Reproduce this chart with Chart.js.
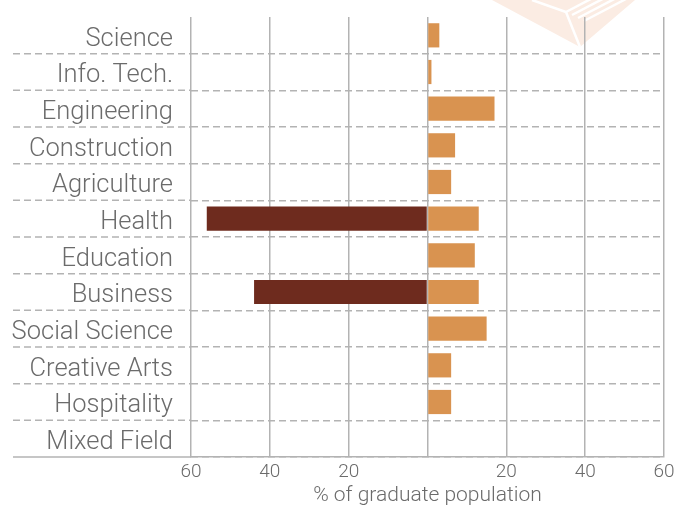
<!DOCTYPE html>
<html>
<head>
  <script src="https://cdn.jsdelivr.net/npm/chart.js@4/dist/chart.umd.min.js"></script>
  <style>
    * { margin: 0; padding: 0; box-sizing: border-box; }
    body { background: #ffffff; width: 677px; height: 508px; overflow: hidden; }
    .chart-box { position: relative; width: 677px; height: 508px; }
  </style>
</head>
<body>
<div class="chart-box">
  <canvas id="fieldChart"></canvas>
</div>

<script>
  // Fields of study, top to bottom
  const fields = ['Science', 'Info. Tech.', 'Engineering', 'Construction', 'Agriculture', 'Health',
    'Education', 'Business', 'Social Science', 'Creative Arts', 'Hospitality', 'Mixed Field'];
  // % of graduate population, left side (drawn as negatives)
  const leftShare = [0, 0, 0, 0, 0, 56, 0, 44, 0, 0, 0, 0];
  // % of graduate population, right side
  const rightShare = [3, 1, 17, 7, 6, 13, 12, 13, 15, 6, 6, 0];
  const xTicks = [-60, -40, -20, 0, 20, 40, 60];

  const gridGrey = '#b3b3b3';
  const textGrey = '#6b6b6b';

  // faint emblem in the top right corner
  const watermark = {
    id: 'watermark',
    beforeDraw(chart) {
      const c = chart.ctx;
      c.save();
      c.fillStyle = '#fbece3';
      c.beginPath();
      c.moveTo(492, 0);
      c.lineTo(580, 47);
      c.lineTo(635, 0);
      c.closePath();
      c.fill();
      c.strokeStyle = '#ffffff';
      c.lineWidth = 2.5;
      for (let k = 0; k < 4; k++) {
        c.beginPath();
        c.moveTo(566 + k * 6, 12 + k * 3);
        c.lineTo(608 + k * 6, -10 + k * 3);
        c.stroke();
      }
      c.beginPath();
      c.moveTo(532, 0);
      c.lineTo(566, 12);
      c.lineTo(580, 47);
      c.stroke();
      c.restore();
    }
  };

  // carry the row separators and the base line under the labels
  const leftRules = {
    id: 'leftRules',
    beforeDatasetsDraw(chart) {
      const c = chart.ctx;
      const y = chart.scales.y;
      const area = chart.chartArea;
      c.save();
      c.strokeStyle = gridGrey;
      c.lineWidth = 1.5;
      c.setLineDash([7, 4]);
      for (let i = 1; i < fields.length; i++) {
        const py = (y.getPixelForTick(i - 1) + y.getPixelForTick(i)) / 2;
        c.beginPath();
        c.moveTo(13, py);
        c.lineTo(area.left, py);
        c.stroke();
      }
      c.setLineDash([]);
      c.beginPath();
      c.moveTo(13, area.bottom);
      c.lineTo(area.left, area.bottom);
      c.stroke();
      c.restore();
    }
  };

  new Chart(document.getElementById('fieldChart'), {
    type: 'bar',
    data: {
      labels: fields,
      datasets: [
        {
          label: 'Left',
          data: leftShare.map(v => -v),
          backgroundColor: '#6e2b1e',
          barPercentage: 0.66,
          categoryPercentage: 1
        },
        {
          label: 'Right',
          data: rightShare,
          backgroundColor: '#d99350',
          barPercentage: 0.66,
          categoryPercentage: 1
        }
      ]
    },
    options: {
      indexAxis: 'y',
      responsive: true,
      maintainAspectRatio: false,
      animation: false,
      layout: { padding: { top: 17, right: 13, left: 0, bottom: 0 } },
      plugins: {
        legend: { display: false },
        tooltip: { enabled: false }
      },
      scales: {
        x: {
          stacked: true,
          min: -60,
          max: 60,
          afterBuildTicks(scale) {
            scale.ticks = xTicks.map(v => ({ value: v }));
          },
          afterFit(scale) {
            scale.height = 51;
            scale.paddingLeft = 0;
            scale.paddingRight = 0;
          },
          grid: { color: gridGrey, lineWidth: 1.5, drawTicks: false },
          border: { display: true, color: gridGrey, width: 1.5 },
          ticks: {
            color: textGrey,
            padding: 4,
            font: { family: 'Roboto', size: 19, weight: 300 },
            callback: v => (v === 0 ? '' : Math.abs(v))
          },
          title: {
            display: true,
            text: '% of graduate population',
            color: textGrey,
            padding: { top: 2, bottom: 0 },
            font: { family: 'Roboto', size: 21, weight: 300 }
          }
        },
        y: {
          stacked: true,
          afterFit(scale) {
            scale.width = 191;
            scale.paddingTop = 0;
            scale.paddingBottom = 0;
          },
          grid: {
            color: ctx => (ctx.index === 0 ? 'rgba(0,0,0,0)' : gridGrey),
            lineWidth: 1.5,
            drawTicks: false
          },
          border: { display: false, dash: [7, 4] },
          ticks: {
            color: textGrey,
            padding: 18,
            labelOffset: 4,
            font: { family: 'Roboto', size: 25.5, weight: 300 }
          }
        }
      }
    },
    plugins: [watermark, leftRules]
  });
</script>
</body>
</html>
